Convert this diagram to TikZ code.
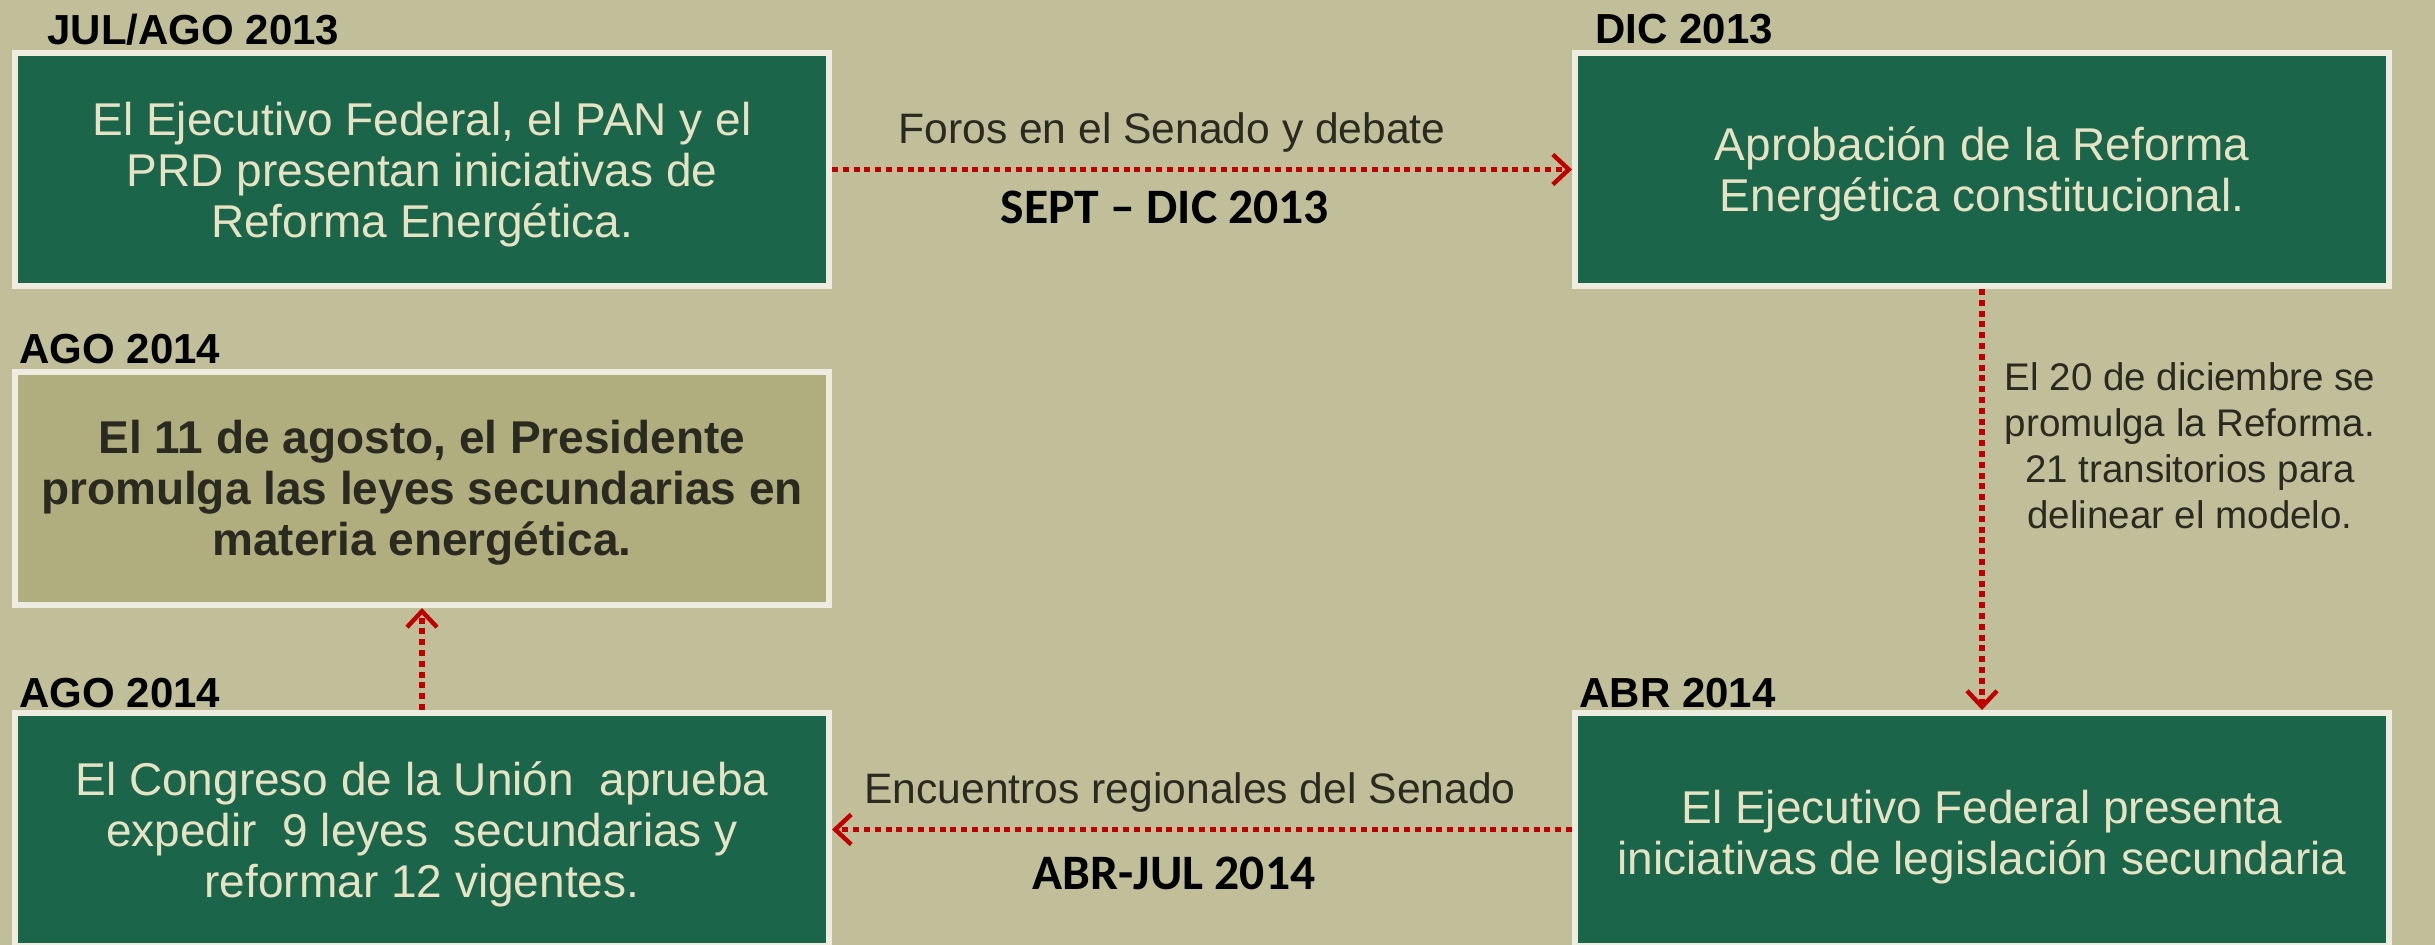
\documentclass[tikz,border=0pt]{standalone}
\usepackage{fontspec}
\setmainfont{Liberation Sans}
\newfontfamily\calib{Carlito}
\usetikzlibrary{arrows.meta}
\definecolor{bgol}{HTML}{C0BF9A}
\definecolor{boxgreen}{HTML}{1B654A}
\definecolor{boxolive}{HTML}{B0AE7E}
\definecolor{rimcol}{HTML}{EEECE0}
\definecolor{txtcream}{HTML}{E6E2C4}
\definecolor{txtdark}{HTML}{2A2A20}
\definecolor{arrred}{HTML}{C00000}
\begin{document}
\begin{tikzpicture}[x=0.5pt,y=-0.5pt,
  stage/.style={draw=rimcol, line width=3pt, fill=boxgreen, minimum width=407pt, minimum height=116.5pt, inner sep=0pt},
  stageol/.style={stage, fill=boxolive},
  stagetxt/.style={inner sep=0pt, align=center, text=txtcream, font=\fontsize{23}{25.5}\selectfont},
  stagetxtol/.style={stagetxt, text=txtdark, font=\fontsize{23}{25.5}\selectfont\bfseries},
  datelbl/.style={anchor=west, inner sep=0pt, font=\fontsize{21}{24}\selectfont\bfseries, text=black},
  note/.style={inner sep=0pt, text=txtdark, font=\fontsize{21.3}{24}\selectfont, align=center},
  sidenote/.style={inner sep=0pt, text=txtdark, font=\fontsize{19.25}{23}\selectfont, align=center},
  period/.style={inner sep=0pt, text=black, font=\fontsize{24.8}{26}\selectfont\calib\bfseries},
  flow/.style={draw=arrred, line width=2.8pt, dash pattern=on 3pt off 2.4pt, -{Straight Barb[length=8pt,width=15pt,line width=2.2pt]}}
]
\useasboundingbox (0,0) rectangle (2435,945);
\clip (0,0) rectangle (2435,945);
\fill[bgol] (0,0) rectangle (2435,945);

\node[stage] (b1) at (422,169.5) {};
\node[stage] (b2) at (1982,169.5) {};
\node[stageol] (b3) at (422,488.5) {};
\node[stage] (b4) at (422,829.5) {};
\node[stage] (b5) at (1982,829.5) {};

\node[stagetxt] (t1) at (422,175) {El Ejecutivo Federal, el PAN y el\\PRD presentan iniciativas de\\Reforma Energética.};
\node[stagetxt] (t2) at (1982,174) {Aprobación de la Reforma\\Energética constitucional.};
\node[stagetxtol] (t3) at (422,493) {El 11 de agosto, el Presidente\\promulga las leyes secundarias en\\materia energética.};
\node[stagetxt] (t4) at (422,834) {El Congreso de la Unión\ \ aprueba\\expedir\ \ 9 leyes\ \ secundarias y\\reformar 12 vigentes.};
\node[stagetxt] (t5) at (1982,837) {El Ejecutivo Federal presenta\\iniciativas de legislación secundaria};

\node[datelbl] (d1) at (47,29.5) {JUL/AGO 2013};
\node[datelbl] (d2) at (1595,29.5) {DIC 2013};
\node[datelbl] (d3) at (19,349) {AGO 2014};
\node[datelbl] (d4) at (19,693) {AGO 2014};
\node[datelbl] (d5) at (1579,693) {ABR 2014};

\draw[flow] (b1.east) -- (b2.west);
\draw[flow] (b2.south) -- (b5.north);
\draw[flow] (b5.west) -- (b4.east);
\draw[flow] (b4.north) -- (b3.south);

\node[note] (n1) at (1172,132) {Foros en el Senado y debate};
\node[period] (p1) at (1165,207) {SEPT – DIC 2013};
\node[note] (n2) at (1190,792) {Encuentros regionales del Senado};
\node[period] (p2) at (1174,873) {ABR-JUL 2014};
\node[sidenote] (n3) at (2190,446) {El 20 de diciembre se\\promulga la Reforma.\\21 transitorios para\\delinear el modelo.};
\end{tikzpicture}
\end{document}
